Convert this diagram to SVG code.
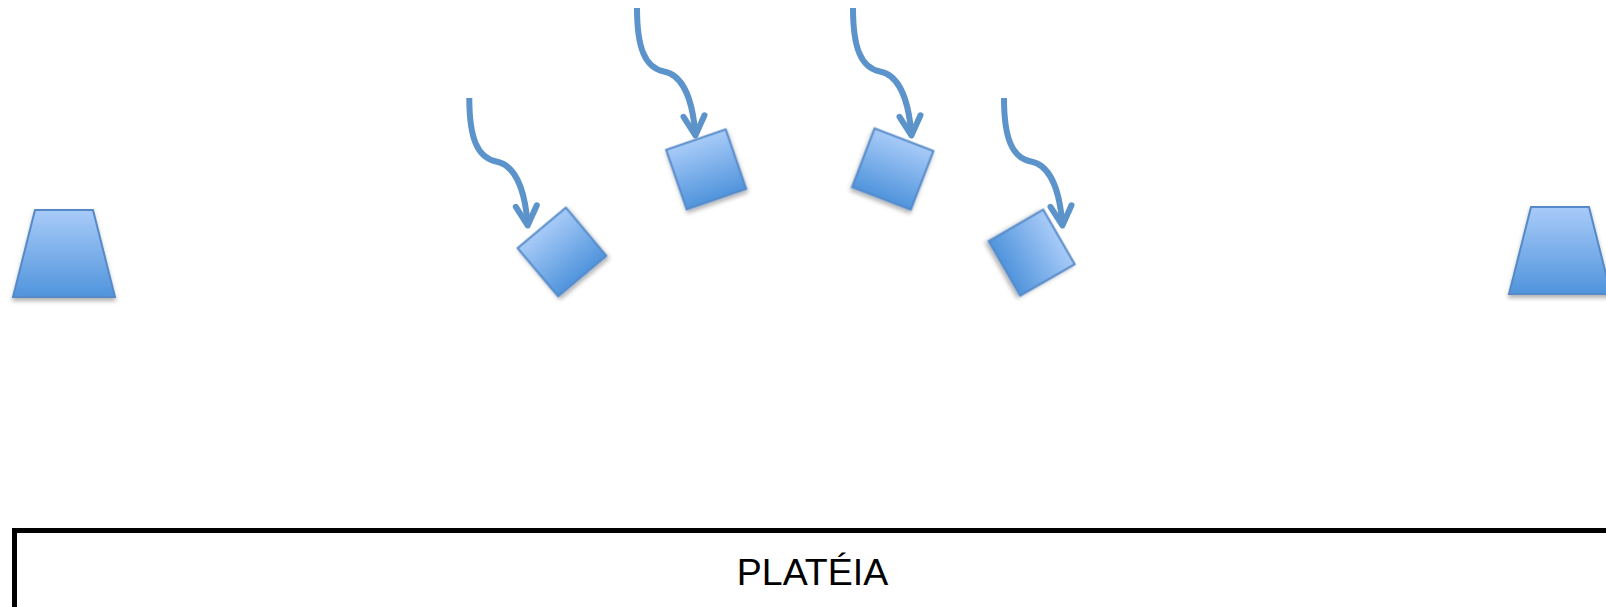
<svg xmlns="http://www.w3.org/2000/svg" width="1606" height="607" viewBox="0 0 1606 607">
  <defs>
    <linearGradient id="gfill" x1="0" y1="0" x2="0" y2="1">
      <stop offset="0" stop-color="#A8CBF8"/>
      <stop offset="1" stop-color="#5094DC"/>
    </linearGradient>
    <filter id="shadow" x="-20%" y="-20%" width="140%" height="150%">
      <feDropShadow dx="0" dy="3" stdDeviation="2" flood-color="#000" flood-opacity="0.3"/>
    </filter>
    <marker id="arrow" markerUnits="userSpaceOnUse" viewBox="-25 -15 30 30" markerWidth="30" markerHeight="30" refX="0" refY="0" orient="auto" overflow="visible">
      <path d="M-19.5,-10.5 L0,0 L-19.5,10.5" fill="none" stroke="#5B93CA" stroke-width="6" stroke-linecap="round" stroke-linejoin="round"/>
    </marker>
    <path id="curve" d="M0,0 C0,40 8,60 27,63.5 C40,66 55,80 58.4,127.5"/>
    <style>
      .shape { fill: url(#gfill); stroke: #5589C8; stroke-width: 2; filter: url(#shadow); }
      .conn { fill: none; stroke: #5B93CA; stroke-width: 6; marker-end: url(#arrow); }
      .box { fill: #FFFFFF; stroke: #000000; stroke-width: 5; }
      .label { font-family: "Liberation Sans", Arial, sans-serif; font-size: 37.5px; fill: #000000; }
    </style>
  </defs>
  <rect width="1606" height="607" fill="#FFFFFF"/>

  <g id="connectors">
    <path class="conn" transform="translate(469.3,98)" d="M0,0 C0,40 8,60 27,63.5 C40,66 55,80 58.4,127.5"/>
    <path class="conn" transform="translate(637,8)" d="M0,0 C0,40 8,60 27,63.5 C40,66 55,80 58.4,127.5"/>
    <path class="conn" transform="translate(853,8)" d="M0,0 C0,40 8,60 27,63.5 C40,66 55,80 58.4,127.5"/>
    <path class="conn" transform="translate(1004,98)" d="M0,0 C0,40 8,60 27,63.5 C40,66 55,80 58.4,127.5"/>
  </g>

  <g id="node-trap-left">
    <polygon class="shape" points="35,210 93,210 115,297 13,297"/>
  </g>
  <g id="node-trap-right">
    <polygon class="shape" points="1531,207 1589,207 1611,294 1509,294"/>
  </g>

  <g id="node-square-1" transform="translate(562,252) rotate(-40)">
    <rect class="shape" x="-31.5" y="-31.5" width="63" height="63"/>
  </g>
  <g id="node-square-2" transform="translate(706.2,169.4) rotate(-19)">
    <rect class="shape" x="-31.5" y="-31.5" width="63" height="63"/>
  </g>
  <g id="node-square-3" transform="translate(892.7,169.1) rotate(21)">
    <rect class="shape" x="-31.5" y="-31.5" width="63" height="63"/>
  </g>
  <g id="node-square-4" transform="translate(1031.7,252.7) rotate(60)">
    <rect class="shape" x="-31.5" y="-31.5" width="63" height="63"/>
  </g>

  <g id="node-plateia">
    <rect class="box" x="14.5" y="530.5" width="1620" height="120"/>
    <text class="label" x="812.5" y="585" text-anchor="middle">PLATÉIA</text>
  </g>
</svg>
